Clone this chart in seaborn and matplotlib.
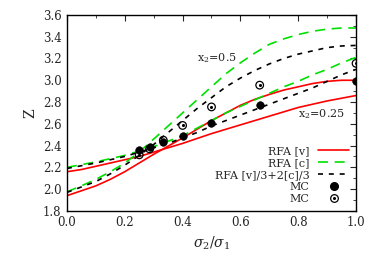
import numpy as np
import pandas as pd
import matplotlib
matplotlib.use("Agg")
import matplotlib.pyplot as plt
import seaborn as sns
from matplotlib.ticker import MultipleLocator, FormatStrFormatter
from matplotlib.lines import Line2D
from matplotlib.legend_handler import HandlerTuple

# Dados (sigma2/sigma1 de 0.05 em 0.05)
ratio = [0.0, 0.05, 0.1, 0.15, 0.2, 0.25, 0.3, 0.35, 0.4, 0.45, 0.5,
         0.55, 0.6, 0.65, 0.7, 0.75, 0.8, 0.85, 0.9, 0.95, 1.0]

# x2 = 0.25
rfa_v_025 = [2.16, 2.18, 2.21, 2.24, 2.27, 2.30, 2.34, 2.38, 2.42, 2.465, 2.51,
             2.55, 2.59, 2.63, 2.67, 2.71, 2.75, 2.78, 2.81, 2.835, 2.86]
rfa_c_025 = [2.20, 2.225, 2.25, 2.28, 2.31, 2.35, 2.39, 2.44, 2.49, 2.56, 2.63,
             2.70, 2.76, 2.82, 2.88, 2.94, 2.99, 3.05, 3.10, 3.16, 3.21]
rfa_m_025 = [2.19, 2.215, 2.24, 2.27, 2.30, 2.34, 2.38, 2.42, 2.47, 2.52, 2.58,
             2.63, 2.68, 2.73, 2.78, 2.83, 2.88, 2.93, 2.99, 3.05, 3.10]

# x2 = 0.5
rfa_v_05 = [1.94, 1.985, 2.03, 2.09, 2.16, 2.24, 2.32, 2.395, 2.47, 2.55, 2.63,
            2.70, 2.77, 2.825, 2.87, 2.91, 2.94, 2.97, 2.99, 3.00, 3.00]
rfa_c_05 = [1.975, 2.03, 2.09, 2.16, 2.24, 2.34, 2.46, 2.58, 2.70, 2.82, 2.94,
            3.06, 3.16, 3.25, 3.33, 3.38, 3.42, 3.45, 3.47, 3.48, 3.48]
rfa_m_05 = [1.97, 2.02, 2.07, 2.14, 2.22, 2.31, 2.41, 2.52, 2.63, 2.74, 2.84,
            2.94, 3.02, 3.09, 3.15, 3.20, 3.24, 3.27, 3.30, 3.315, 3.32]

mc_ratio = [0.25, 0.2857, 0.3333, 0.4, 0.5, 0.6667, 1.0]
mc_025 = [2.36, 2.39, 2.435, 2.49, 2.605, 2.77, 2.995]
mc_05 = [2.315, 2.37, 2.45, 2.585, 2.755, 2.955, 3.155]

sns.set_style("white")
plt.rcParams["font.family"] = ["DejaVu Serif"]
plt.rcParams["mathtext.fontset"] = "dejavuserif"

fig = plt.figure(figsize=(3.74, 2.62), dpi=100)
ax = fig.add_axes([0.179, 0.195, 0.773, 0.748])

red = "#ff0000"
green = "#00e000"
green_dash = [6, 4]
black_dash = [3, 3.5]

for ys in (rfa_v_025, rfa_v_05):
    sns.lineplot(x=ratio, y=ys, ax=ax, color=red, lw=1.2)
for ys in (rfa_c_025, rfa_c_05):
    sns.lineplot(x=ratio, y=ys, ax=ax, color=green, lw=1.2)
    ax.lines[-1].set_dashes(green_dash)
for ys in (rfa_m_025, rfa_m_05):
    sns.lineplot(x=ratio, y=ys, ax=ax, color="black", lw=1.2)
    ax.lines[-1].set_dashes(black_dash)

sns.scatterplot(x=mc_ratio, y=mc_025, ax=ax, color="black", s=30,
                edgecolor="black", zorder=5)
sns.scatterplot(x=mc_ratio, y=mc_05, ax=ax, s=30, facecolor="none",
                edgecolor="black", linewidth=0.9, zorder=5)
ax.scatter(mc_ratio, mc_05, s=1.5, color="black", zorder=6)

ax.set_xlim(0, 1)
ax.set_ylim(1.8, 3.6)
ax.xaxis.set_major_locator(MultipleLocator(0.2))
ax.xaxis.set_minor_locator(MultipleLocator(0.1))
ax.yaxis.set_major_locator(MultipleLocator(0.2))
ax.yaxis.set_minor_locator(MultipleLocator(0.1))
ax.xaxis.set_major_formatter(FormatStrFormatter("%.1f"))
ax.yaxis.set_major_formatter(FormatStrFormatter("%.1f"))
ax.tick_params(which="both", direction="in", top=True, right=True,
               labelsize=8.5, pad=4)
ax.tick_params(which="major", length=4)
ax.tick_params(which="minor", length=2.5)
for s in ax.spines.values():
    s.set_linewidth(1.0)
    s.set_color("black")

ax.set_xlabel(r"$\sigma_2/\sigma_1$", fontsize=10)
ax.set_ylabel("Z", fontsize=10)

ax.text(0.45, 3.2, r"x$_2$=0.5", fontsize=8, va="center", ha="left")
ax.text(0.80, 2.69, r"x$_2$=0.25", fontsize=8, va="center", ha="left")

h_v = Line2D([], [], color=red, lw=1.2)
h_c = Line2D([], [], color=green, lw=1.2, dashes=green_dash)
h_m = Line2D([], [], color="black", lw=1.2, dashes=black_dash)
h_f = Line2D([], [], ls="none", marker="o", color="black", ms=5.5)
h_o = (Line2D([], [], ls="none", marker="o", mfc="none", mec="black", ms=5.5, mew=0.9),
       Line2D([], [], ls="none", marker="o", color="black", ms=1.2))
ax.legend([h_v, h_c, h_m, h_f, h_o],
          ["RFA [v]", "RFA [c]", "RFA [v]/3+2[c]/3", "MC", "MC"],
          loc="lower right", markerfirst=False, frameon=False, fontsize=8,
          handlelength=2.8, handletextpad=0.8, labelspacing=0.18,
          borderaxespad=0.2,
          handler_map={tuple: HandlerTuple(ndivide=1)})

fig.savefig("out.png", dpi=100)
